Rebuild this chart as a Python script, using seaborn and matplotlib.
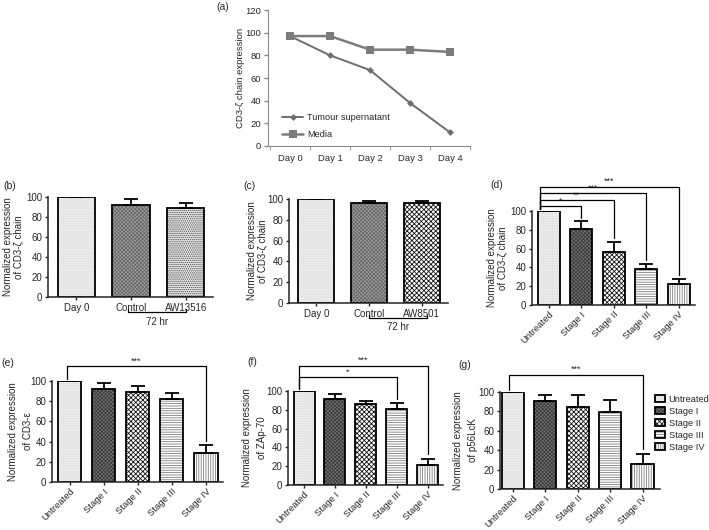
import numpy as np
import pandas as pd
import matplotlib
matplotlib.use('Agg')
import matplotlib.pyplot as plt
import matplotlib.transforms as mtrans
import seaborn as sns

sns.set_style('ticks')
plt.rcParams['font.family'] = ['Liberation Sans', 'DejaVu Sans']
plt.rcParams['hatch.linewidth'] = 0.6
plt.rcParams['axes.linewidth'] = 1.1
plt.rcParams['xtick.major.width'] = 1.0
plt.rcParams['ytick.major.width'] = 1.0

# (a) time course
days = ['Day 0', 'Day 1', 'Day 2', 'Day 3', 'Day 4']
tumour_sup = [97, 80, 67, 38, 12]
media = [97, 97, 85, 85, 83]

# (b), (c)
b_labels = ['Day 0', 'Control', 'AW13516']
b_vals = [100, 92, 89]
b_err = [0, 6, 5]
c_labels = ['Day 0', 'Control', 'AW8501']
c_vals = [100, 96, 96]
c_err = [0, 2.5, 2.5]

# (d)-(g) stages
stages = ['Untreated', 'Stage I', 'Stage II', 'Stage III', 'Stage IV']
d_vals = [100, 81, 56, 38, 22]
d_err = [0, 8, 11, 6, 6]
e_vals = [100, 92, 89, 82, 29]
e_err = [0, 6, 6, 6, 8]
f_vals = [100, 91, 86, 81, 21]
f_err = [0, 6, 3, 6, 7]
g_vals = [100, 91, 85, 79, 26]
g_err = [0, 6, 12, 13, 10]

# face, hatch colour, hatch
styles = {
    'light': ('#f5f5f5', '#cfcfcf', '..........'),
    'dark': ('#767676', '#3a3a3a', 'xxxxxxxxx'),
    'grey': ('#a2a2a2', '#666666', 'xxxxxxxxx'),
    'checker': ('#ffffff', '#151515', 'xxxxxxx'),
    'dots': ('#e4e4e4', '#4a4a4a', '........'),
    'hlines': ('#ffffff', '#808080', '-------'),
    'vlines': ('#ffffff', '#808080', '|||||||'),
}
stage_looks = ['light', 'dark', 'checker', 'hlines', 'vlines']

FS = 7
W, H = 709, 530
fig = plt.figure(figsize=(W / 100, H / 100), dpi=100)


def px_axes(x0, x1, y0, y1):
    return fig.add_axes([x0 / W, 1 - y1 / H, (x1 - x0) / W, (y1 - y0) / H])


def bar_panel(ax, labels, vals, errs, looks, ylabel, label_x, spacing,
              rotate=True, xlim=None):
    df = pd.DataFrame({'cat': labels, 'val': vals})
    sns.barplot(data=df, x='cat', y='val', color='white', width=0.68,
                errorbar=None, ax=ax)
    for p, look in zip(ax.patches, looks):
        face, hc, hatch = styles[look]
        p.set_facecolor(face)
        p.set_edgecolor(hc)
        p.set_linewidth(0)
        p.set_hatch(hatch)
    sns.barplot(data=df, x='cat', y='val', color='black', fill=False,
                width=0.68, linewidth=1.3, errorbar=None, ax=ax)
    n = len(vals)
    ax.errorbar(np.arange(n), vals, yerr=[np.zeros(n), errs], fmt='none',
                ecolor='black', elinewidth=1.3, capsize=5, capthick=1.3)
    ax.set_xlim(xlim if xlim else (-0.52, n - 0.5))
    ax.set_ylim(0, 100)
    ax.set_yticks(np.arange(0, 101, 20))
    ax.set_xlabel('')
    ax.set_ylabel(ylabel, fontsize=FS, linespacing=spacing)
    ax.yaxis.set_label_coords(label_x, 0.5)
    ax.tick_params(axis='both', labelsize=FS, length=2.5, pad=1.5)
    if rotate:
        ax.tick_params(axis='x', labelsize=6.8, pad=1)
        plt.setp(ax.get_xticklabels(), rotation=45, ha='right',
                 rotation_mode='anchor')
    sns.despine(ax=ax)


def bracket(ax, x1, x2, level, y_left, y_right, stars):
    ax.plot([x1, x1, x2, x2], [y_left, level, level, y_right],
            color='black', lw=0.9, clip_on=False)
    ax.text((x1 + x2) / 2, level + 0.5, stars, ha='center', va='bottom',
            fontsize=6.5)


def hr_bracket(ax, x1, x2, y_line, y_text):
    tr = mtrans.blended_transform_factory(ax.transData, ax.transAxes)
    ax.plot([x1, x1, x2, x2], [y_line + 0.03, y_line, y_line, y_line + 0.03],
            color='black', lw=0.9, transform=tr, clip_on=False)
    ax.text((x1 + x2) / 2, y_text, '72 hr', ha='center', va='center',
            fontsize=FS, transform=tr)


# ---- (a)
ax_a = px_axes(268, 470, 10, 146)
df_a = pd.DataFrame({'day': np.arange(len(days)), 'tumour': tumour_sup,
                     'media': media})
sns.lineplot(data=df_a, x='day', y='tumour', color='#6e6e6e', marker='D',
             markersize=3.5, markeredgewidth=0, lw=1.4,
             label='Tumour supernatant', ax=ax_a)
sns.lineplot(data=df_a, x='day', y='media', color='#7c7c7c', marker='s',
             markersize=5.5, markeredgewidth=0, lw=1.8, label='Media', ax=ax_a)
ax_a.set_xlim(-0.55, 4.5)
ax_a.set_ylim(0, 120)
ax_a.set_yticks(np.arange(0, 121, 20))
ax_a.set_xticks(np.arange(len(days)))
ax_a.set_xticklabels(days)
ax_a.set_xticks(np.arange(-0.5, 4.6, 1), minor=True)
ax_a.tick_params(axis='x', which='major', length=0, pad=6)
ax_a.tick_params(axis='x', which='minor', length=3, color='#888888')
ax_a.tick_params(axis='y', length=3, color='#888888', pad=2)
ax_a.tick_params(labelsize=6.8)
for s in ['left', 'bottom']:
    ax_a.spines[s].set_color('#8a8a8a')
    ax_a.spines[s].set_linewidth(0.8)
sns.despine(ax=ax_a)
ax_a.set_xlabel('')
ax_a.set_ylabel('CD3-ζ chain expression', fontsize=6.8)
ax_a.yaxis.set_label_coords(-0.115, 0.5)
ax_a.legend(loc='lower left', bbox_to_anchor=(0.03, -0.01), frameon=False,
            fontsize=6.6, handlelength=2.3, labelspacing=0.9,
            handletextpad=0.4)

# ---- (b)
ax_b = px_axes(48, 213, 197, 297)
bar_panel(ax_b, b_labels, b_vals, b_err, ['light', 'grey', 'dots'],
          'Normalized expression\nof CD3-ζ chain', -0.145, 1.1, rotate=False)
hr_bracket(ax_b, 0.95, 2.0, -0.15, -0.25)

# ---- (c)
ax_c = px_axes(289, 448, 199, 303)
bar_panel(ax_c, c_labels, c_vals, c_err, ['light', 'grey', 'checker'],
          'Normalized expression\nof CD3-ζ chain', -0.13, 1.1, rotate=False)
hr_bracket(ax_c, 1.0, 2.1, -0.145, -0.235)

# ---- (d)
ax_d = px_axes(532, 695, 211, 305)
bar_panel(ax_d, stages, d_vals, d_err, stage_looks,
          'Normalized expression\nof CD3-ζ chain', -0.15, 1.1)
for i, (lvl, st) in enumerate(zip([105, 112, 119, 126],
                                  ['*', '**', '***', '***']), start=1):
    bracket(ax_d, -0.28, i, lvl, 102, d_vals[i] + d_err[i] + 4, st)

# ---- (e)
ax_e = px_axes(52, 223, 381, 482)
bar_panel(ax_e, stages, e_vals, e_err, stage_looks,
          'Normalized expression\nof CD3-ε', -0.11, 1.6)
bracket(ax_e, -0.08, 4, 115, 102, e_vals[4] + e_err[4] + 4, '***')

# ---- (f)
ax_f = px_axes(288, 443, 391, 485)
bar_panel(ax_f, stages, f_vals, f_err, stage_looks,
          'Normalized expression\nof ZAp-70', -0.135, 1.6)
bracket(ax_f, -0.17, 3, 115, 102, f_vals[3] + f_err[3] + 5, '*')
bracket(ax_f, -0.17, 4, 127, 102, f_vals[4] + f_err[4] + 5, '***')

# ---- (g)
ax_g = px_axes(500, 660, 392, 489)
bar_panel(ax_g, stages, g_vals, g_err, stage_looks,
          'Normalized expression\nof p56LcK', -0.14, 1.6, xlim=(-0.4, 4.54))
bracket(ax_g, -0.13, 4, 118, 102, g_vals[4] + g_err[4] + 5, '***')

# legend for (g): overlay hatch layer + outline layer
handles = [(ax_g.patches[i], ax_g.patches[i + 5]) for i in range(5)]
fig.legend(handles, stages, loc='upper left',
           bbox_to_anchor=(651 / W, 1 - 391 / H), frameon=False,
           fontsize=6.7, handlelength=1.1, handleheight=0.75,
           labelspacing=0.32, handletextpad=0.4, borderaxespad=0)

# panel letters
for lab, (x, y) in {'(a)': (223, 7), '(b)': (10, 186), '(c)': (250, 186),
                    '(d)': (497, 185), '(e)': (8, 363), '(f)': (252, 362),
                    '(g)': (465, 365)}.items():
    fig.text(x / W, 1 - y / H, lab, fontsize=7.5, ha='center', va='center')

fig.savefig('out.png', dpi=100)
